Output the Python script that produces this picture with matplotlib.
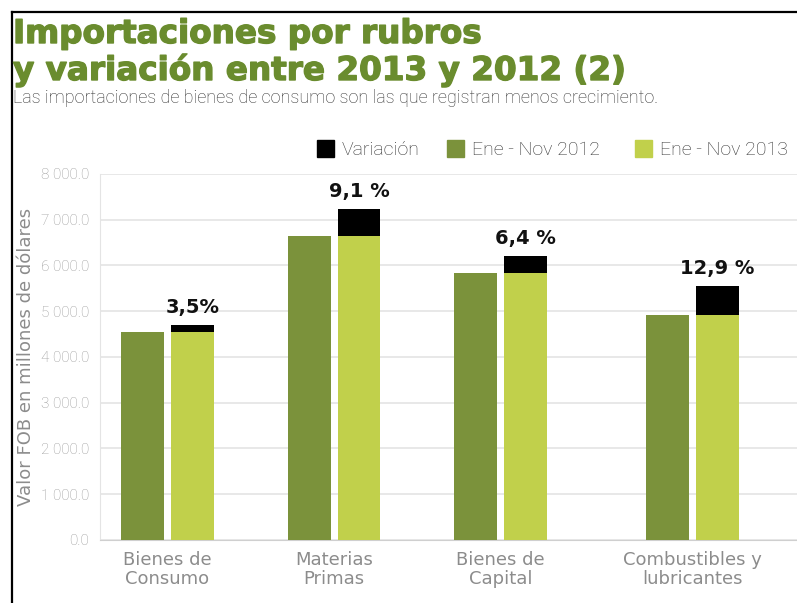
import matplotlib.pyplot as plt
import matplotlib.patheffects as pe
import numpy as np
from matplotlib.lines import Line2D

# Importaciones Ene-Nov, millones de dolares FOB
rubros = ['Bienes de\nConsumo', 'Materias\nPrimas', 'Bienes de\nCapital', 'Combustibles y\nlubricantes']
ene_nov_2012 = [4540, 6640, 5840, 4920]
variacion_pct = [3.5, 9.1, 6.4, 12.9]
etiquetas_pct = ['3,5%', '9,1 %', '6,4 %', '12,9 %']
yticks = [0, 1000, 2000, 3000, 4000, 5000, 6000, 7000, 8000]
ytick_labels = ['0.0', '1 000.0', '2 000.0', '3 000.0', '4 000.0', '5 000.0', '6 000.0', '7 000.0', '8 000.0']

c_2012 = '#7b923b'
c_2013 = '#c1d04b'
c_title = '#6a8c2e'
light = ['Roboto', 'DejaVu Sans']

fig = plt.figure(figsize=(7.97, 6.03), dpi=100)
ax = fig.add_axes([0.1255, 0.1045, 0.8745, 0.607])

xpos = np.array([0, 1, 2, 3.15])
w = 0.258
off = 0.15
v12 = np.array(ene_nov_2012, dtype=float)
var = v12 * np.array(variacion_pct) / 100

ax.bar(xpos - off, v12, width=w, color=c_2012, zorder=3)
ax.bar(xpos + off, v12, width=w, color=c_2013, zorder=3)
ax.bar(xpos + off, var, bottom=v12, width=w, color='black', zorder=3)

for x, base, d, lab in zip(xpos, v12, var, etiquetas_pct):
    ax.text(x + off, base + d + 170, lab, ha='center', va='bottom',
            fontsize=14, fontweight='bold', color='#111111')

ax.set_xlim(-0.405, 3.78)
ax.set_ylim(0, 8000)
ax.set_yticks(yticks)
ax.set_yticklabels(ytick_labels, family=light, fontweight='light', fontsize=11, color='#999999')
ax.set_xticks(xpos)
ax.set_xticklabels(rubros, fontsize=13, color='#8c8c8c', linespacing=1.05)
ax.tick_params(axis='both', length=0, pad=8)
ax.grid(axis='y', color='#e4e4e4', linewidth=1.2, zorder=0)
for s in ['top', 'right']:
    ax.spines[s].set_visible(False)
ax.spines['left'].set_color('#e4e4e4')
ax.spines['bottom'].set_color('#cfcfcf')
ax.set_ylabel('Valor FOB en millones de dólares', fontsize=13, color='#8c8c8c', labelpad=4)

# titulo y subtitulo
grueso = [pe.withStroke(linewidth=1.0, foreground=c_title)]
fig.text(13 / 797, 1 - 43 / 603, 'Importaciones por rubros', fontsize=23.5, fontweight='bold',
         color=c_title, va='baseline', ha='left', path_effects=grueso)
fig.text(13 / 797, 1 - 80 / 603, 'y variación entre 2013 y 2012 (2)', fontsize=23.5, fontweight='bold',
         color=c_title, va='baseline', ha='left', path_effects=grueso)
fig.text(13 / 797, 1 - 103 / 603,
         'Las importaciones de bienes de consumo son las que registran menos crecimiento.',
         fontsize=13, family=light, fontweight='light', color='#333333', va='baseline', ha='left')

# leyenda
leg_items = [('Variación', 'black', 317), ('Ene - Nov 2012', c_2012, 447), ('Ene - Nov 2013', c_2013, 635)]
for lab, col, x0 in leg_items:
    fig.patches.append(plt.Rectangle((x0 / 797, 1 - 157 / 603), 17 / 797, 17 / 603,
                                     transform=fig.transFigure, color=col, figure=fig))
    fig.text((x0 + 25) / 797, 1 - 155 / 603, lab, fontsize=14, family=light, fontweight='light',
             color='#333333', va='baseline', ha='left')

# marco
fig.add_artist(Line2D([12 / 797, 12 / 797], [0, 1 - 11.5 / 603], color='black', linewidth=1.6))
fig.add_artist(Line2D([12 / 797, 1], [1 - 11.5 / 603, 1 - 11.5 / 603], color='black', linewidth=1.6))

fig.savefig('out.png', dpi=100)
